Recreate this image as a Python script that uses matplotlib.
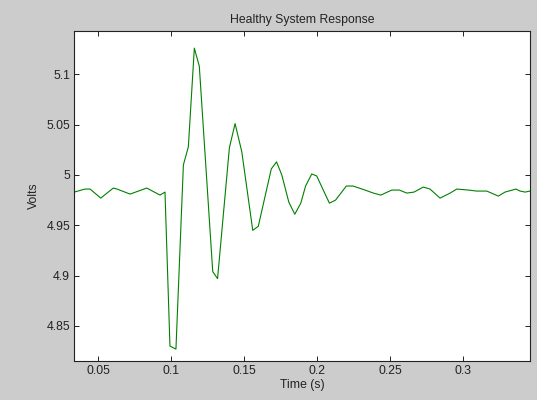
import matplotlib
matplotlib.use("Agg")
import matplotlib.pyplot as plt

# vertices (time in s, volts)
time_s = [0.0336, 0.0409, 0.0444, 0.0517, 0.0603, 0.0628, 0.0718, 0.0832,
          0.0923, 0.0957, 0.0991, 0.1032, 0.1083, 0.1117, 0.1158, 0.1192,
          0.1284, 0.1317, 0.1398, 0.1437, 0.1483, 0.1558, 0.1596, 0.1685,
          0.1721, 0.1757, 0.1805, 0.1846, 0.1887, 0.1920, 0.1962, 0.1996,
          0.2083, 0.2125, 0.2199, 0.2245, 0.2327, 0.2384, 0.2435, 0.2510,
          0.2562, 0.2613, 0.2663, 0.2726, 0.2772, 0.2841, 0.2910, 0.2955,
          0.3035, 0.3092, 0.3161, 0.3240, 0.3286, 0.3361, 0.3389, 0.3423,
          0.3457]
volts = [4.983, 4.986, 4.986, 4.977, 4.987, 4.986, 4.981, 4.987,
         4.980, 4.983, 4.830, 4.827, 5.010, 5.028, 5.126, 5.108,
         4.904, 4.897, 5.027, 5.051, 5.023, 4.945, 4.949, 5.006,
         5.013, 5.000, 4.973, 4.961, 4.972, 4.989, 5.001, 4.999,
         4.972, 4.975, 4.989, 4.989, 4.985, 4.982, 4.980, 4.985,
         4.985, 4.982, 4.983, 4.988, 4.986, 4.977, 4.982, 4.986,
         4.985, 4.984, 4.984, 4.979, 4.983, 4.986, 4.984, 4.983,
         4.984]

x_ticks = [0.05, 0.1, 0.15, 0.2, 0.25, 0.3]
x_tick_labels = ["0.05", "0.1", "0.15", "0.2", "0.25", "0.3"]
y_ticks = [4.85, 4.9, 4.95, 5.0, 5.05, 5.1]
y_tick_labels = ["4.85", "4.9", "4.95", "5", "5.05", "5.1"]

plt.rcParams["font.family"] = ["Liberation Sans", "DejaVu Sans"]
plt.rcParams["font.size"] = 8.8

fig = plt.figure(figsize=(5.37, 4.0), dpi=100, facecolor="#cccccc")
ax = fig.add_axes([0.1384, 0.0975, 0.8486, 0.825])
ax.set_facecolor("white")

ax.plot(time_s, volts, color="#008000", linewidth=0.8)

ax.set_xlim(0.0336, 0.3457)
ax.set_ylim(4.8152, 5.143)
ax.set_xticks(x_ticks)
ax.set_xticklabels(x_tick_labels)
ax.set_yticks(y_ticks)
ax.set_yticklabels(y_tick_labels)

ax.tick_params(direction="in", length=3.5, width=0.7, top=True, right=True,
               colors="#222222", labelcolor="#222222", pad=3)
for sp in ax.spines.values():
    sp.set_linewidth(0.8)
    sp.set_color("#222222")

ax.set_title("Healthy System Response", fontsize=8.8, pad=6, color="#222222")
ax.set_xlabel("Time (s)", labelpad=1, color="#222222")
ax.set_ylabel("Volts", labelpad=5, color="#222222")

fig.savefig("out.png", dpi=100, facecolor=fig.get_facecolor())
